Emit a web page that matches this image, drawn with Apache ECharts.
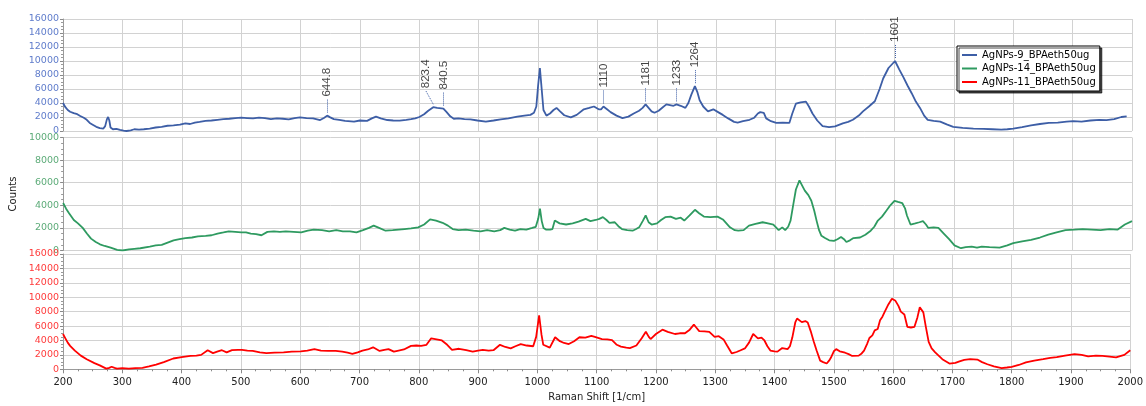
<!DOCTYPE html>
<html>
<head>
<meta charset="utf-8">
<script src="https://cdn.jsdelivr.net/npm/echarts@6/dist/echarts.min.js"></script>
<style>
  html, body { margin: 0; padding: 0; background: #fff; }
  #chart { width: 1146px; height: 406px; }
</style>
</head>
<body>
<div id="chart"></div>
<script>
// Raman spectra of three AgNP samples, stacked in three panels sharing the shift axis.

const seriesNames = ['AgNPs-9_BPAeth50ug', 'AgNPs-14_BPAeth50ug', 'AgNPs-11_BPAeth50ug'];

// AgNPs-9 (top panel)
const shift9 = [200,204,208,212,218,224,229,235,240,245,250,256,262,268,271,274,276,278,280,284,290,296,302,307,314,320,328,336,346,356,366,376,386,397,406,414,422,430,440,450,460,470,480,490,500,510,520,530,540,550,560,570,580,590,599,610,621,633,640,644.8,650,656,665,675,690,700,712,720,727,735,746,756,767,778,786,793,800,808,815,823.4,830,840.5,846,852,858,866,876,886,898,912,925,937,950,965,977,987,993,997,1000,1003,1006,1009,1014,1020,1026,1031,1037,1044,1055,1065,1077,1086,1094,1102,1106,1110,1116,1122,1132,1142,1152,1161,1170,1176,1181,1186,1191,1196,1203,1210,1216,1222,1228,1233,1240,1248,1253,1258,1264,1268,1272,1278,1286,1295,1303,1311,1320,1330,1336,1345,1356,1364,1370,1374,1380,1384,1392,1401,1412,1423,1428,1434,1442,1451,1456,1462,1470,1479,1490,1500,1513,1522,1530,1540,1547,1557,1567,1575,1581,1590,1601,1608,1615,1622,1629,1636,1643,1650,1656,1666,1677,1688,1699,1715,1733,1750,1765,1780,1790,1800,1815,1830,1845,1860,1875,1890,1901,1915,1930,1945,1957,1970,1982,1991,2000];
const counts9 = [4000,3400,3000,2750,2550,2400,2150,1900,1600,1150,900,600,400,350,700,1700,2000,1500,500,250,300,150,50,0,100,250,200,250,350,500,600,750,800,900,1100,1000,1200,1300,1450,1500,1600,1700,1750,1850,1900,1850,1800,1900,1850,1700,1800,1750,1650,1850,1950,1850,1800,1570,1900,2200,1950,1700,1600,1450,1330,1500,1450,1800,2050,1800,1570,1500,1480,1600,1700,1800,2000,2400,2900,3400,3300,3200,2700,2100,1750,1800,1700,1650,1500,1350,1500,1650,1800,2050,2200,2300,2600,3500,6500,9000,6000,3000,2200,2500,3000,3300,2800,2250,1950,2300,3100,3300,3500,3100,3100,3500,3100,2700,2200,1850,2050,2500,2900,3300,3800,3300,2800,2600,2900,3400,3800,3700,3600,3800,3600,3300,4000,5200,6400,5600,4400,3500,2800,3100,2700,2300,1800,1300,1200,1400,1600,1900,2500,2700,2600,1800,1400,1150,1200,1150,2500,3900,4100,4200,3500,2500,1500,700,550,650,1100,1300,1600,2200,2800,3500,4250,6000,7500,9000,10000,8800,7700,6500,5400,4200,3300,2200,1600,1450,1350,950,600,450,350,300,250,200,250,350,550,800,1000,1150,1200,1330,1400,1350,1500,1600,1550,1700,2000,2100];

// AgNPs-14 (middle panel)
const shift14 = [200,205,210,218,225,233,240,247,255,262,270,280,291,300,311,320,330,346,356,366,376,386,396,406,417,427,440,450,460,470,479,490,500,508,516,525,534,544,555,565,575,588,601,612,622,636,648,660,671,683,694,705,715,723,732,743,755,765,775,786,798,808,818,828,839,848,856,866,878,891,903,914,926,936,943,952,961,970,980,990,996,1000,1003,1006,1009,1013,1020,1024,1028,1036,1047,1058,1068,1080,1088,1097,1103,1109,1115,1120,1129,1135,1141,1150,1159,1165,1170,1176,1181,1186,1191,1200,1207,1214,1223,1232,1240,1246,1255,1264,1271,1279,1290,1302,1311,1317,1323,1331,1337,1346,1355,1366,1378,1387,1396,1405,1411,1416,1421,1425,1430,1434,1440,1445,1449,1455,1460,1465,1469,1473,1477,1483,1490,1498,1504,1510,1515,1519,1525,1531,1542,1551,1560,1566,1572,1579,1586,1593,1600,1606,1613,1618,1621,1627,1635,1642,1648,1653,1657,1666,1674,1683,1692,1701,1712,1720,1730,1739,1747,1760,1777,1790,1800,1815,1830,1845,1859,1873,1888,1903,1917,1932,1947,1962,1976,1988,2000];
const counts14 = [4200,3700,3300,2700,2400,2000,1500,1050,750,550,400,250,50,0,100,150,200,350,450,500,700,900,1000,1100,1150,1250,1300,1350,1500,1600,1700,1650,1600,1600,1500,1450,1350,1650,1700,1650,1700,1650,1600,1750,1850,1800,1700,1800,1700,1700,1600,1800,2000,2200,2000,1750,1800,1850,1900,1950,2050,2300,2750,2650,2450,2200,1900,1800,1850,1750,1700,1800,1700,1800,2000,1850,1750,1900,1850,2000,2100,2800,3700,2600,2000,1850,1850,1900,2650,2400,2300,2400,2550,2800,2600,2700,2800,2950,2700,2450,2500,2150,1900,1800,1750,1900,2050,2600,3100,2500,2300,2400,2700,2950,3000,2800,2900,2650,3100,3600,3300,3000,2950,3000,2750,2400,2050,1800,1750,1800,2200,2350,2500,2400,2300,1800,2050,1800,2100,2650,4200,5400,6200,5700,5300,4900,4400,3500,2600,1800,1300,1100,900,850,1000,1200,1000,750,900,1100,1150,1400,1750,2100,2650,3000,3500,4000,4400,4300,4200,3700,3100,2300,2400,2500,2600,2300,2000,2050,2000,1500,1000,450,200,300,350,250,350,300,250,450,650,800,950,1150,1400,1600,1800,1850,1900,1850,1800,1900,1850,2300,2600];

// AgNPs-11 (bottom panel)
const shift11 = [200,204,208,212,220,230,240,253,262,273,278,282,287,291,300,311,322,334,345,357,370,386,400,415,425,433,444,453,460,468,476,485,495,502,511,520,532,543,557,572,586,601,612,624,635,647,660,671,680,688,697,705,714,723,734,742,749,758,766,775,787,796,804,813,821,830,839,848,856,868,880,891,900,908,918,926,937,946,955,963,972,982,993,998,1003,1007,1010,1013,1021,1030,1038,1045,1053,1062,1071,1081,1091,1097,1109,1118,1126,1134,1141,1150,1156,1167,1176,1183,1188,1191,1200,1211,1220,1232,1240,1249,1257,1264,1268,1273,1282,1290,1299,1306,1314,1320,1328,1336,1343,1350,1357,1364,1368,1372,1378,1383,1388,1393,1400,1405,1413,1422,1426,1430,1435,1438,1446,1452,1456,1461,1466,1471,1477,1482,1488,1492,1495,1500,1504,1510,1519,1525,1531,1542,1547,1551,1556,1560,1565,1569,1574,1578,1582,1586,1592,1598,1604,1609,1613,1619,1624,1630,1636,1641,1645,1651,1655,1660,1665,1671,1683,1695,1705,1712,1720,1730,1742,1750,1759,1770,1783,1792,1800,1812,1824,1838,1853,1865,1876,1890,1906,1918,1929,1942,1953,1965,1976,1990,2000];
const counts11 = [4900,4300,3700,3250,2600,1900,1400,850,550,100,200,350,200,100,150,100,150,200,400,650,1000,1500,1700,1850,1900,2000,2650,2250,2450,2650,2350,2650,2700,2700,2600,2550,2350,2250,2300,2350,2450,2500,2600,2800,2600,2550,2550,2450,2300,2150,2350,2600,2750,3050,2550,2700,2800,2450,2600,2750,3250,3300,3250,3400,4300,4150,4000,3400,2700,2850,2650,2450,2600,2700,2600,2650,3400,3100,2900,3200,3500,3300,3200,4500,7500,4800,3400,3150,3000,4450,3900,3650,3500,3900,4450,4400,4650,4500,4200,4150,4050,3400,3150,3000,2950,3300,4300,5200,4500,4200,4900,5500,5200,4900,5000,5000,5500,6200,5800,5300,5250,5200,4500,4600,4150,3300,2200,2400,2650,2900,3700,4900,4600,4300,4400,4000,3200,2600,2500,2450,2950,2800,3200,4400,6500,7050,6550,6700,6500,5300,3900,2600,1200,1000,800,1200,1600,2500,2800,2500,2300,2100,1850,1900,2200,2600,3500,4350,4700,5400,5600,6800,7300,8000,9000,9800,9500,8800,8000,7600,5900,5800,5900,7200,8600,7900,6000,3800,2900,2350,1400,800,900,1100,1300,1400,1350,1000,700,400,150,250,350,600,950,1200,1400,1600,1700,1900,2100,2000,1800,1900,1850,1750,1650,2000,2650];

// Annotated band positions on the top spectrum
const peakShifts = [644.8, 823.4, 840.5, 1110, 1181, 1233, 1264, 1601];

// Axis ticks
const shiftTicks = { min: 200, max: 2000, step: 100 };
const countTicks = [
  { max: 16000, step: 2000 },
  { max: 10000, step: 2000 },
  { max: 16000, step: 2000 }
];

const lineColors = ['#3d5ea6', '#2e9a60', '#ff0000'];
const labelColors = ['#5f7ccb', '#5cab78', '#ff3a3a'];
const font = 'DejaVu Sans, Verdana, sans-serif';

const grids = [
  { left: 63, right: 14, top: 19, height: 112 },
  { left: 63, right: 14, top: 137.5, height: 113 },
  { left: 63, right: 14, top: 254, height: 115.3 }
];

function pairs(xs, ys) { return xs.map((x, i) => [x, ys[i]]); }
const spectra = [pairs(shift9, counts9), pairs(shift14, counts14), pairs(shift11, counts11)];

// height of the top spectrum at each annotated band
const peakCounts = peakShifts.map(p => counts9[shift9.indexOf(p)]);
const unitsPerPx = countTicks[0].max / grids[0].height;
const labelNudge = { 823.4: -13 };

const leaderLines = peakShifts.map((p, i) => [
  { coord: [p, peakCounts[i] + 3 * unitsPerPx] },
  { coord: [p + (labelNudge[p] || 0), peakCounts[i] + 17 * unitsPerPx] }
]);
const peakLabels = peakShifts.map((p, i) => ({
  value: [p + (labelNudge[p] || 0), peakCounts[i] + 19 * unitsPerPx],
  label: { formatter: String(p) }
}));

const plain = v => String(v);

const xAxes = [0, 1, 2].map(i => ({
  gridIndex: i,
  type: 'value',
  min: shiftTicks.min,
  max: shiftTicks.max,
  interval: shiftTicks.step,
  axisLine: { show: i === 2, onZero: false, lineStyle: { color: '#9a9a9a' } },
  axisTick: { show: i === 2, length: 4, lineStyle: { color: '#8a8a8a' } },
  minorTick: { show: i === 2, splitNumber: 4, length: 2, lineStyle: { color: '#8a8a8a' } },
  axisLabel: { show: i === 2, formatter: plain, color: '#222', fontFamily: font, fontSize: 10, margin: 8 },
  splitLine: { show: true, lineStyle: { color: '#d2d2d2', width: 1 } },
  name: i === 2 ? 'Raman Shift [1/cm]' : '',
  nameLocation: 'middle',
  nameGap: 23,
  nameTextStyle: { color: '#222', fontFamily: font, fontSize: 10 }
}));

// The end labels of neighbouring panels sit on top of each other (e.g. "0" over "10000");
// a short line box keeps every one of them drawn.
const yAxes = [0, 1, 2].map(i => ({
  gridIndex: i,
  type: 'value',
  min: 0,
  max: countTicks[i].max,
  interval: countTicks[i].step,
  axisLine: { show: true, lineStyle: { color: '#9a9a9a' } },
  axisTick: { show: true, length: 3, lineStyle: { color: '#8a8a8a' } },
  minorTick: { show: true, splitNumber: 4, length: 2, lineStyle: { color: '#9a9a9a' } },
  axisLabel: { formatter: plain, showMinLabel: true, showMaxLabel: true, hideOverlap: false,
               lineHeight: 3, color: labelColors[i], fontFamily: font, fontSize: 9.5, margin: 4 },
  splitLine: { show: true, lineStyle: { color: '#d2d2d2', width: 1 } },
  name: i === 1 ? 'Counts' : '',
  nameLocation: 'middle',
  nameGap: 45,
  nameRotate: 90,
  nameTextStyle: { color: '#222', fontFamily: font, fontSize: 10 }
}));

const series = spectra.map((d, i) => ({
  name: seriesNames[i],
  type: 'line',
  xAxisIndex: i,
  yAxisIndex: i,
  data: d,
  showSymbol: false,
  symbol: 'none',
  lineStyle: { color: lineColors[i], width: 1.8 },
  itemStyle: { color: lineColors[i] },
  markLine: i === 0 ? {
    silent: true,
    symbol: ['none', 'none'],
    label: { show: false },
    lineStyle: { type: 'dotted', color: lineColors[0], width: 1 },
    data: leaderLines
  } : undefined
}));

series.push({
  type: 'scatter',
  xAxisIndex: 0,
  yAxisIndex: 0,
  symbolSize: 0,
  silent: true,
  data: peakLabels,
  label: {
    show: true,
    position: [0, 0],
    rotate: 90,
    align: 'left',
    verticalAlign: 'middle',
    color: '#111',
    fontFamily: 'Liberation Sans, Arial, sans-serif',
    fontSize: 11.5
  }
});

const chart = echarts.init(document.getElementById('chart'), null, { renderer: 'canvas' });
chart.setOption({
  animation: false,
  backgroundColor: '#fff',
  grid: grids,
  xAxis: xAxes,
  yAxis: yAxes,
  legend: {
    data: seriesNames,
    orient: 'vertical',
    left: 957,
    top: 46,
    backgroundColor: '#fff',
    borderColor: '#000',
    borderWidth: 1,
    shadowColor: 'rgba(0,0,0,0.7)',
    shadowOffsetX: 2,
    shadowOffsetY: 2,
    shadowBlur: 0,
    padding: [4, 4, 4, 5],
    itemGap: 3.5,
    itemWidth: 15,
    itemHeight: 2,
    icon: 'rect',
    textStyle: { color: '#000', fontFamily: font, fontSize: 10 }
  },
  series: series
});
</script>
</body>
</html>
